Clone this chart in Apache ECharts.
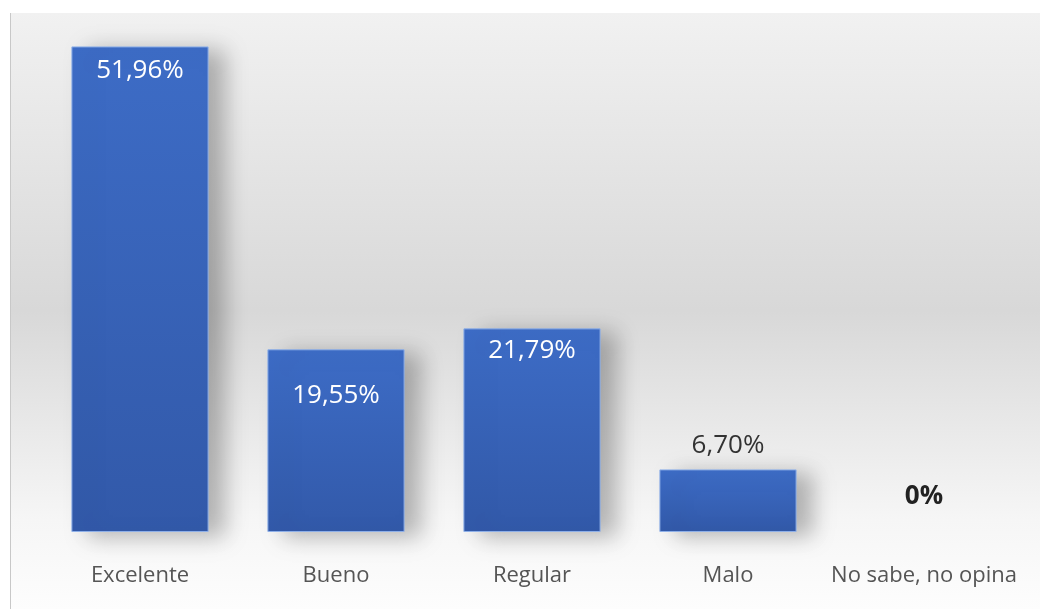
<!DOCTYPE html>
<html>
<head>
<meta charset="utf-8">
<script src="https://cdn.jsdelivr.net/npm/echarts@6/dist/echarts.min.js"></script>
<style>
  html, body { margin: 0; padding: 0; background: #fff; }
  #main { width: 1040px; height: 609px; }
</style>
</head>
<body>
<div id="main"></div>
<script>
// data
var categories = ['Excelente', 'Bueno', 'Regular', 'Malo', 'No sabe, no opina'];
var values = [51.96, 19.55, 21.79, 6.70, 0];
var valueTexts = ['51,96%', '19,55%', '21,79%', '6,70%', '0%'];

var chart = echarts.init(document.getElementById('main'));
var font = "'Open Sans', sans-serif";

// label placement per bar (inside for tall bars, above for short ones)
var labelCfg = [
  { position: 'insideTop', distance: 11, color: '#fff', fontWeight: 'normal' },
  { position: 'insideTop', distance: 33, color: '#fff', fontWeight: 'normal' },
  { position: 'insideTop', distance: 9, color: '#fff', fontWeight: 'normal' },
  { position: 'top', distance: 11, color: '#333', fontWeight: 'normal' },
  { position: 'top', distance: 22, color: '#222', fontWeight: 'bold' }
];

var seriesData = values.map(function (v, i) {
  return {
    value: v,
    // the zero bar has no visible mark, only its label
    itemStyle: v === 0 ? { color: 'rgba(0,0,0,0)', borderWidth: 0, shadowColor: 'rgba(0,0,0,0)' } : undefined,
    label: {
      position: labelCfg[i].position,
      distance: labelCfg[i].distance,
      color: labelCfg[i].color,
      fontWeight: labelCfg[i].fontWeight
    }
  };
});

var option = {
  backgroundColor: '#fff',
  animation: false,
  graphic: [
    {
      type: 'rect',
      z: -10,
      shape: { x: 10, y: 13, width: 1030, height: 596 },
      style: {
        fill: new echarts.graphic.LinearGradient(0, 0, 0, 1, [
          { offset: 0, color: '#f1f1f1' },
          { offset: 0.5, color: '#d8d8d8' },
          { offset: 0.85, color: '#f6f6f6' },
          { offset: 1, color: '#fdfdfd' }
        ])
      }
    },
    {
      type: 'line',
      z: -9,
      shape: { x1: 10.5, y1: 13, x2: 10.5, y2: 609 },
      style: { stroke: '#c8c8c8', lineWidth: 1 }
    }
  ],
  grid: { left: 42, right: 18, top: 18, bottom: 77 },
  xAxis: {
    type: 'category',
    data: categories,
    axisLine: { show: false },
    axisTick: { show: false },
    axisLabel: { interval: 0, fontFamily: font, fontSize: 22, color: '#555', margin: 33 }
  },
  yAxis: {
    type: 'value',
    min: 0,
    max: 55,
    show: false,
    splitLine: { show: false }
  },
  series: [{
    type: 'bar',
    data: seriesData,
    barCategoryGap: '30%',
    itemStyle: {
      color: new echarts.graphic.LinearGradient(0, 0, 0, 1, [
        { offset: 0, color: '#3d6cc6' },
        { offset: 1, color: '#3259a9' }
      ]),
      borderColor: '#8fb0e8',
      borderWidth: 1,
      shadowColor: 'rgba(0,0,0,0.28)',
      shadowBlur: 22,
      shadowOffsetX: 16,
      shadowOffsetY: 4
    },
    label: {
      show: true,
      fontFamily: font,
      fontSize: 26,
      formatter: function (p) { return valueTexts[p.dataIndex]; }
    }
  }]
};

chart.setOption(option);
</script>
</body>
</html>
